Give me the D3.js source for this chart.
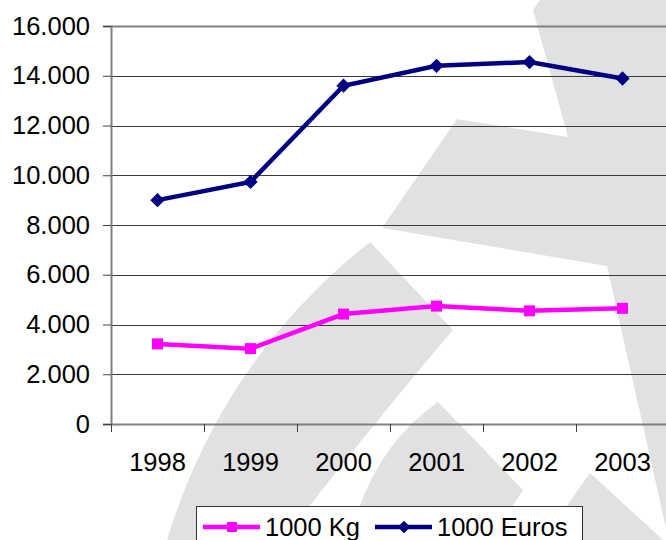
<!DOCTYPE html>
<html>
<head>
<meta charset="utf-8">
<script src="https://cdn.jsdelivr.net/npm/d3@7"></script>
<style>
  body { margin: 0; background: #fff; }
  text { font-family: "Liberation Sans", Arial, sans-serif; fill: #000; }
</style>
</head>
<body>
<script>
// data
const years = ["1998", "1999", "2000", "2001", "2002", "2003"];
const kg = [3220, 3030, 4420, 4740, 4550, 4650];
const euros = [9000, 9730, 13600, 14400, 14550, 13890];
const yTicks = [0, 2000, 4000, 6000, 8000, 10000, 12000, 14000, 16000];
const seriesNames = ["1000 Kg", "1000 Euros"];

const W = 666, H = 540;

const svg = d3.select("body").append("svg")
    .attr("width", W).attr("height", H);

svg.append("rect").attr("width", W).attr("height", H).attr("fill", "#fff");

// watermark shapes in the background (decoration only)
const watermark = [
    "M540,0 L666,0 L666,528 L607,266 L382,228 L457,119 L568,137 L533,10 Z",
    "M370,242 L453,330 Q372,425 283,540 L167,540 Q222,359 370,242 Z",
    "M438,402 L523,490 L490,540 L350,540 Q370,450 438,402 Z",
    "M590,473 L663,540 L543,540 Z"
];
svg.append("g").selectAll("path")
    .data(watermark)
    .join("path")
    .attr("d", d => d)
    .attr("fill", "#e1e1e1");

const x = d3.scaleBand().domain(years).range([111, 669]);
const y = d3.scaleLinear().domain([0, 16000]).range([424, 26]);

const fmt = d3.formatLocale({ decimal: ",", thousands: ".", grouping: [3], currency: ["", ""] }).format(",");

// gridlines
svg.append("g").selectAll("line")
    .data(yTicks.filter(t => t > 0))
    .join("line")
    .attr("x1", 111).attr("x2", W)
    .attr("y1", d => Math.round(y(d)) + 0.5).attr("y2", d => Math.round(y(d)) + 0.5)
    .attr("stroke", d => d == 16000 ? "#808080" : "#3a3a3a")
    .attr("stroke-width", d => d == 16000 ? 2 : 1);

// y axis
const yAxis = svg.append("g")
    .attr("transform", "translate(111,0)")
    .call(d3.axisLeft(y).tickValues(yTicks).tickFormat(fmt).tickSize(8).tickPadding(13));
yAxis.select(".domain").attr("stroke", "#808080").attr("stroke-width", 2);
yAxis.selectAll(".tick line").attr("stroke", "#404040");
yAxis.selectAll(".tick text")
    .attr("font-size", 25.5)
    .attr("font-family", "Liberation Sans, Arial, sans-serif");

// x axis
const xAxis = svg.append("g")
    .attr("transform", "translate(0,424)")
    .call(d3.axisBottom(x).tickSize(0).tickPadding(38));
xAxis.select(".domain").attr("stroke", "#808080").attr("stroke-width", 2);
xAxis.selectAll(".tick text")
    .attr("font-size", 25.5)
    .attr("font-family", "Liberation Sans, Arial, sans-serif");
xAxis.selectAll(".tick text").attr("dy", "0.35em");

// x ticks between categories
svg.append("g").selectAll("line")
    .data(years)
    .join("line")
    .attr("x1", d => Math.round(x(d)) + 0.5).attr("x2", d => Math.round(x(d)) + 0.5)
    .attr("y1", 424).attr("y2", 432)
    .attr("stroke", "#404040");

const line = d3.line()
    .x((d, i) => x(years[i]) + x.bandwidth() / 2)
    .y(d => y(d));

// 1000 Euros
svg.append("path").datum(euros)
    .attr("d", line)
    .attr("fill", "none")
    .attr("stroke", "#000080")
    .attr("stroke-width", 4.5);
svg.append("g").selectAll("path")
    .data(euros)
    .join("path")
    .attr("d", d3.symbol(d3.symbolDiamond2, 130))
    .attr("transform", (d, i) => `translate(${x(years[i]) + x.bandwidth() / 2},${y(d)})`)
    .attr("fill", "#000080");

// 1000 Kg
svg.append("path").datum(kg)
    .attr("d", line)
    .attr("fill", "none")
    .attr("stroke", "#ff00ff")
    .attr("stroke-width", 4.5);
svg.append("g").selectAll("rect")
    .data(kg)
    .join("rect")
    .attr("x", (d, i) => x(years[i]) + x.bandwidth() / 2 - 5.5)
    .attr("y", d => y(d) - 5.5)
    .attr("width", 11).attr("height", 11)
    .attr("fill", "#ff00ff");

// legend
const legend = svg.append("g");
legend.append("rect")
    .attr("x", 196.5).attr("y", 506.5)
    .attr("width", 386).attr("height", 60)
    .attr("fill", "#fff")
    .attr("stroke", "#333");

const legX = [203, 375];
const legColors = ["#ff00ff", "#000080"];
const items = legend.selectAll("g.item")
    .data(seriesNames)
    .join("g")
    .attr("class", "item")
    .attr("transform", (d, i) => `translate(${legX[i]},527)`);
items.append("line")
    .attr("x1", 0).attr("x2", 57)
    .attr("stroke", (d, i) => legColors[i])
    .attr("stroke-width", 4.5);
items.filter((d, i) => i == 0).append("rect")
    .attr("x", 24).attr("y", -5).attr("width", 10).attr("height", 10)
    .attr("fill", legColors[0]);
items.filter((d, i) => i == 1).append("path")
    .attr("d", d3.symbol(d3.symbolDiamond2, 100))
    .attr("transform", "translate(29,0)")
    .attr("fill", legColors[1]);
items.append("text")
    .attr("x", 62).attr("y", 0).attr("dy", "0.35em")
    .attr("font-size", 25.5)
    .text(d => d);
</script>
</body>
</html>
